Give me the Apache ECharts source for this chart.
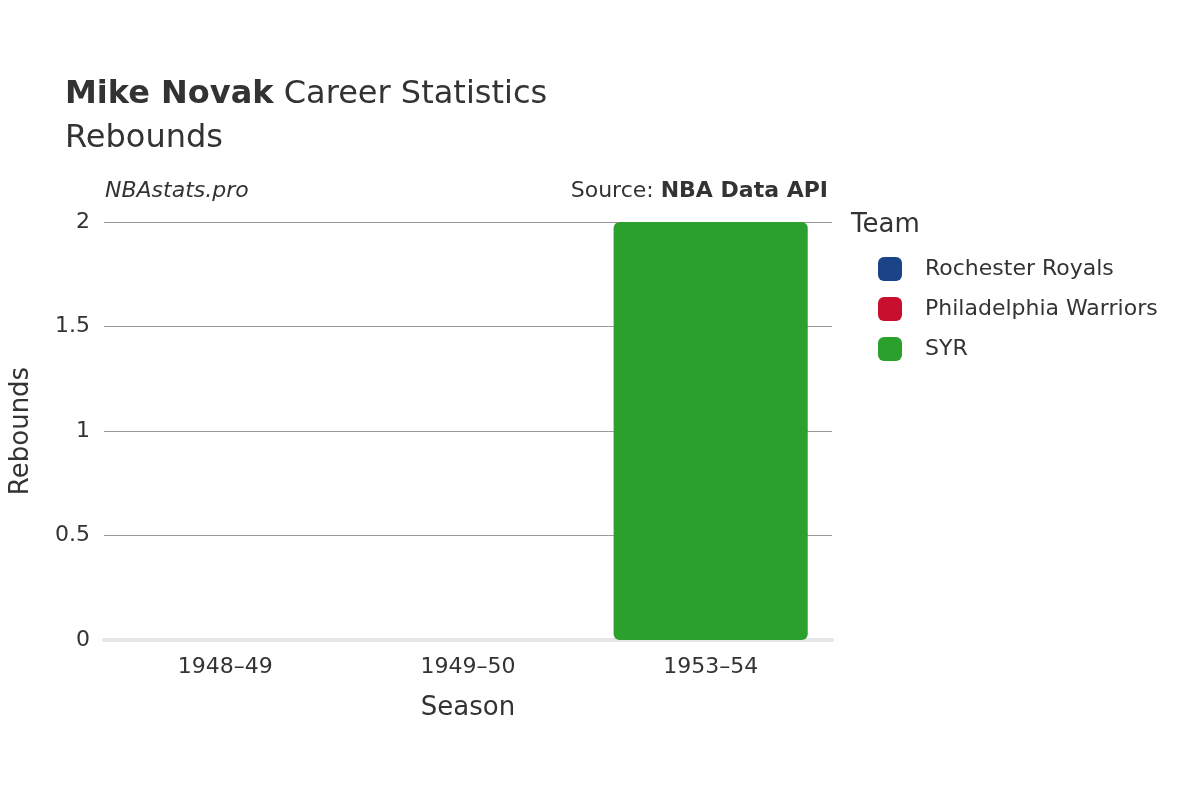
<!DOCTYPE html>
<html><head><meta charset="utf-8">
<script src="https://cdn.jsdelivr.net/npm/echarts@6/dist/echarts.min.js"></script>
<style>html,body{margin:0;padding:0;background:#fff}#c{width:1200px;height:800px}</style>
</head><body><div id="c"></div>
<script>
const seasons = ['1948–49', '1949–50', '1953–54'];
const teams = ['Rochester Royals', 'Philadelphia Warriors', 'SYR'];
const teamColors = ['#1a4388', '#c8102e', '#2ca02c'];
const rochester = [0, null, null];
const philadelphia = [null, 0, null];
const syr = [null, null, 2];
const yTicks = [0, 0.5, 1, 1.5, 2];
const values = [rochester, philadelphia, syr];
const F = 'DejaVu Sans';
const chart = echarts.init(document.getElementById('c'));
chart.setOption({
  textStyle: {fontFamily: F},
  animation: false,
  title: {
    text: '{b|Mike Novak} Career Statistics\nRebounds',
    left: 60, top: 68,
    textStyle: {fontFamily: F, fontSize: 32, color: '#333', fontWeight: 'normal', lineHeight: 44,
      rich: {b: {fontFamily: F, fontSize: 32, fontWeight: 'bold', color: '#333'}}}
  },
  graphic: [
    {type: 'text', left: 105, top: 180, style: {text: 'NBAstats.pro', font: 'italic 22px "DejaVu Sans"', fill: '#333'}},
    {type: 'text', right: 372, top: 180, style: {text: '{n|Source: }{b|NBA Data API}', font: '22px "DejaVu Sans"', fill: '#333',
      rich: {n: {fontFamily: F, fontSize: 22, fill: '#333', color: '#333'}, b: {fontFamily: F, fontSize: 22, fontWeight: 'bold', color: '#333'}}}},
    {type: 'text', left: 851, top: 212, style: {text: 'Team', font: '26px "DejaVu Sans"', fill: '#333'}}
  ],
  legend: {
    orient: 'vertical', left: 873, top: 252, itemGap: 16, itemWidth: 24, itemHeight: 24,
    icon: 'roundRect', textStyle: {fontFamily: F, fontSize: 22, color: '#333', padding: [0, 0, 0, 18]},
    data: teams
  },
  grid: {left: 100, right: 368, top: 222, bottom: 160, containLabel: false},
  xAxis: {
    type: 'category', data: seasons, name: 'Season', nameLocation: 'middle', nameGap: 55,
    nameTextStyle: {fontFamily: F, fontSize: 26, color: '#333'},
    axisLine: {lineStyle: {color: '#e5e5e5', width: 4}}, axisTick: {show: false},
    axisLabel: {fontFamily: F, fontSize: 22, color: '#333', margin: 16}
  },
  yAxis: {
    type: 'value', min: 0, max: 2, interval: 0.5, name: 'Rebounds', nameLocation: 'middle', nameGap: 70,
    nameTextStyle: {fontFamily: F, fontSize: 26, color: '#333'},
    axisLabel: {fontFamily: F, fontSize: 22, color: '#333', margin: 14},
    splitLine: {lineStyle: {color: '#999', width: 1}}
  },
  series: teams.map((t, i) => ({
    name: t, type: 'bar', stack: 'total', barWidth: '80%', data: values[i],
    itemStyle: {color: teamColors[i], borderRadius: 6}
  }))
});
</script></body></html>
